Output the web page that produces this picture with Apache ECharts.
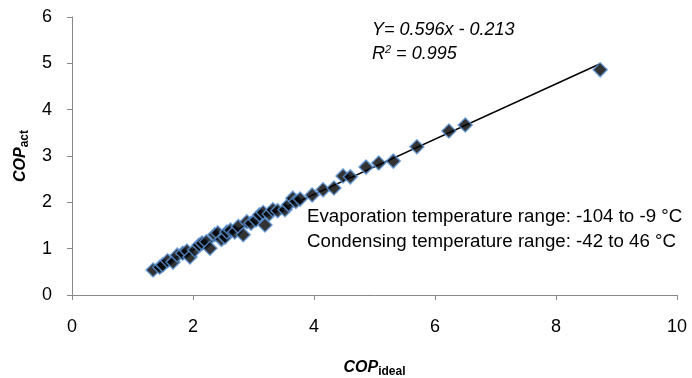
<!DOCTYPE html>
<html>
<head>
<meta charset="utf-8">
<script src="https://cdn.jsdelivr.net/npm/echarts@6/dist/echarts.min.js"></script>
<style>
  html, body { margin: 0; padding: 0; background: #fff; }
  #chart { width: 692px; height: 378px; }
</style>
</head>
<body>
<div id="chart"></div>
<script>
// COP_ideal values
const copIdeal = [
  1.34, 1.45, 1.50, 1.58, 1.67, 1.74, 1.83, 1.90, 1.95, 2.03,
  2.10, 2.15, 2.22, 2.28, 2.36, 2.41, 2.47, 2.53, 2.56, 2.62,
  2.69, 2.75, 2.83, 2.89, 2.96, 3.04, 3.10, 3.16, 3.19, 3.26,
  3.32, 3.40, 3.52, 3.58, 3.65, 3.70, 3.77, 3.97, 4.15, 4.33,
  4.48, 4.60, 4.86, 5.07, 5.31, 5.70, 6.23, 6.50, 8.73
];
// COP_act values
const copAct = [
  0.54, 0.60, 0.65, 0.74, 0.71, 0.86, 0.90, 0.95, 0.82, 0.97,
  1.08, 1.12, 1.15, 1.01, 1.30, 1.34, 1.20, 1.25, 1.36, 1.40,
  1.36, 1.48, 1.30, 1.58, 1.55, 1.62, 1.73, 1.78, 1.51, 1.75,
  1.84, 1.82, 1.84, 1.95, 2.09, 2.02, 2.07, 2.16, 2.27, 2.31,
  2.57, 2.55, 2.76, 2.85, 2.89, 3.20, 3.54, 3.67, 4.86
];
const xTicks = [0, 2, 4, 6, 8, 10];
const yTicks = [0, 1, 2, 3, 4, 5, 6];
const slope = 0.596;
const intercept = -0.213;

const points = copIdeal.map((x, i) => [x, copAct[i]]);
const xMinData = Math.min(...copIdeal);
const xMaxData = Math.max(...copIdeal);
const trend = [
  [xMinData, slope * xMinData + intercept],
  [xMaxData, slope * xMaxData + intercept],
];

const font = '"Liberation Sans", Arial, sans-serif';

const titleRich = {
  b: { fontFamily: font, fontSize: 16, fontWeight: 'bold', fontStyle: 'italic', color: '#000' },
  s: { fontFamily: font, fontSize: 12, fontWeight: 'bold', color: '#000', verticalAlign: 'bottom', padding: [9, 0, 0, 0] },
};

const chart = echarts.init(document.getElementById('chart'));
chart.setOption({
  animation: false,
  backgroundColor: '#fff',
  grid: { left: 72, right: 15, top: 17, bottom: 83, containLabel: false, outerBoundsMode: 'none' },
  xAxis: {
    type: 'value',
    min: xTicks[0],
    max: xTicks[xTicks.length - 1],
    interval: 2,
    name: '{b|COP}{s|ideal}',
    nameLocation: 'middle',
    nameGap: 62,
    nameTextStyle: { rich: titleRich },
    axisLine: { lineStyle: { color: '#888', width: 1 } },
    axisTick: { show: true, inside: false, length: 5, lineStyle: { color: '#888' } },
    axisLabel: { fontFamily: font, fontSize: 18, color: '#000', margin: 23 },
    splitLine: { show: false },
  },
  yAxis: {
    type: 'value',
    min: yTicks[0],
    max: yTicks[yTicks.length - 1],
    interval: 1,
    name: '{b|COP}{s|act}',
    nameLocation: 'middle',
    nameGap: 41,
    nameRotate: 90,
    nameTextStyle: { rich: titleRich },
    axisLine: { show: true, lineStyle: { color: '#888', width: 1 } },
    axisTick: { show: true, inside: false, length: 5, lineStyle: { color: '#888' } },
    axisLabel: { fontFamily: font, fontSize: 18, color: '#000', margin: 20 },
    splitLine: { show: false },
  },
  series: [
    {
      type: 'line',
      data: trend,
      symbol: 'none',
      lineStyle: { color: '#000', width: 1.5 },
      z: 1,
    },
    {
      type: 'scatter',
      data: points,
      symbol: 'diamond',
      symbolSize: 14,
      itemStyle: { color: '#000', borderColor: '#5b93d6', borderWidth: 1.5 },
      z: 2,
    },
  ],
  graphic: [
    {
      type: 'text', left: 372, top: 21,
      style: { text: 'Y= 0.596x - 0.213', font: 'italic 18px ' + font, fill: '#000' },
    },
    {
      type: 'text', left: 372, top: 44,
      style: {
        text: '{i|R}{sup|2}{i| = 0.995}',
        rich: {
          i: { font: 'italic 18px ' + font, fill: '#000' },
          sup: { font: 'italic 11px ' + font, fill: '#000', verticalAlign: 'top', padding: [0, 0, 9, 0] },
        },
      },
    },
    {
      type: 'text', left: 307, top: 207,
      style: { text: 'Evaporation temperature range: -104 to -9 °C', font: '18.7px ' + font, fill: '#000' },
    },
    {
      type: 'text', left: 307, top: 232,
      style: { text: 'Condensing temperature range: -42 to 46 °C', font: '18.7px ' + font, fill: '#000' },
    },
  ],
});
</script>
</body>
</html>
